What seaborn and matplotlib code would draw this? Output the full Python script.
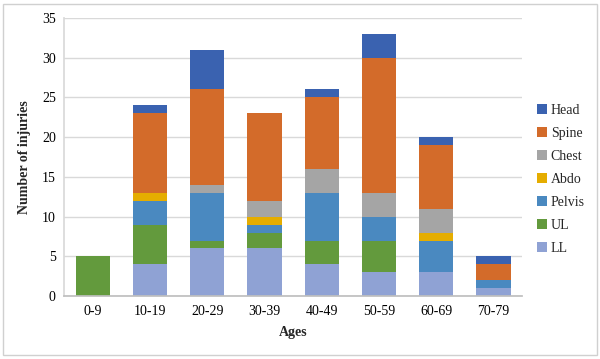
import numpy as np
import pandas as pd
import seaborn as sns
from matplotlib import pyplot as plt
from matplotlib.patches import Rectangle

# Dados

ages = ['0-9', '10-19', '20-29', '30-39', '40-49', '50-59', '60-69', '70-79']
ll = [0, 4, 6, 6, 4, 3, 3, 1]
ul = [5, 5, 1, 2, 3, 4, 0, 0]
pelvis = [0, 3, 6, 1, 6, 3, 4, 1]
abdo = [0, 1, 0, 1, 0, 0, 1, 0]
chest = [0, 0, 1, 2, 3, 3, 3, 0]
spine = [0, 10, 12, 11, 9, 17, 8, 2]
head = [0, 1, 5, 0, 1, 3, 1, 1]

parts = ['LL', 'UL', 'Pelvis', 'Abdo', 'Chest', 'Spine', 'Head']
values = [ll, ul, pelvis, abdo, chest, spine, head]
colors = ['#8fa2d4', '#639a3d', '#4a89c0', '#e5ad00', '#a5a5a5', '#d36b2a', '#3a62b0']

sns.set_theme(style='white')
plt.rcParams['font.family'] = ['Liberation Serif', 'DejaVu Serif']

fig = plt.figure(figsize=(6, 3.59), dpi=100)
ax = fig.add_axes([0.107, 0.175, 0.763, 0.775])

bottom = np.zeros(len(ages))
for name, vals, c in zip(parts, values, colors):
    sns.barplot(x=ages, y=vals, bottom=bottom, color=c, width=0.6, saturation=1,
                label=name, ax=ax, linewidth=0)
    bottom += np.array(vals)

ax.set_ylim(0, 35)
ax.set_yticks(range(0, 36, 5))
ax.set_xlim(-0.5, len(ages) - 0.5)
ax.yaxis.grid(True, color='#d9d9d9', linewidth=1)
ax.set_axisbelow(True)
for s in ['top', 'right']:
    ax.spines[s].set_visible(False)
ax.spines['left'].set_color('#d9d9d9')
ax.spines['bottom'].set_color('#bfbfbf')
ax.tick_params(axis='both', length=0, labelsize=10, colors='black', pad=6)
ax.set_xlabel('Ages', fontsize=10, fontweight='bold', labelpad=6)
ax.set_ylabel('Number of injuries', fontsize=10, fontweight='bold', labelpad=8)

handles, labels = ax.get_legend_handles_labels()
ax.legend(handles[::-1], labels[::-1], loc='center left', bbox_to_anchor=(1.005, 0.42),
          frameon=False, fontsize=10, handlelength=0.7, handleheight=0.7,
          handletextpad=0.3, labelspacing=0.72)

fig.patches.append(Rectangle((0.005, 0.01), 0.99, 0.98, transform=fig.transFigure,
                             fill=False, edgecolor='#d0d0d0', linewidth=1))

fig.savefig('out.png', dpi=100)
